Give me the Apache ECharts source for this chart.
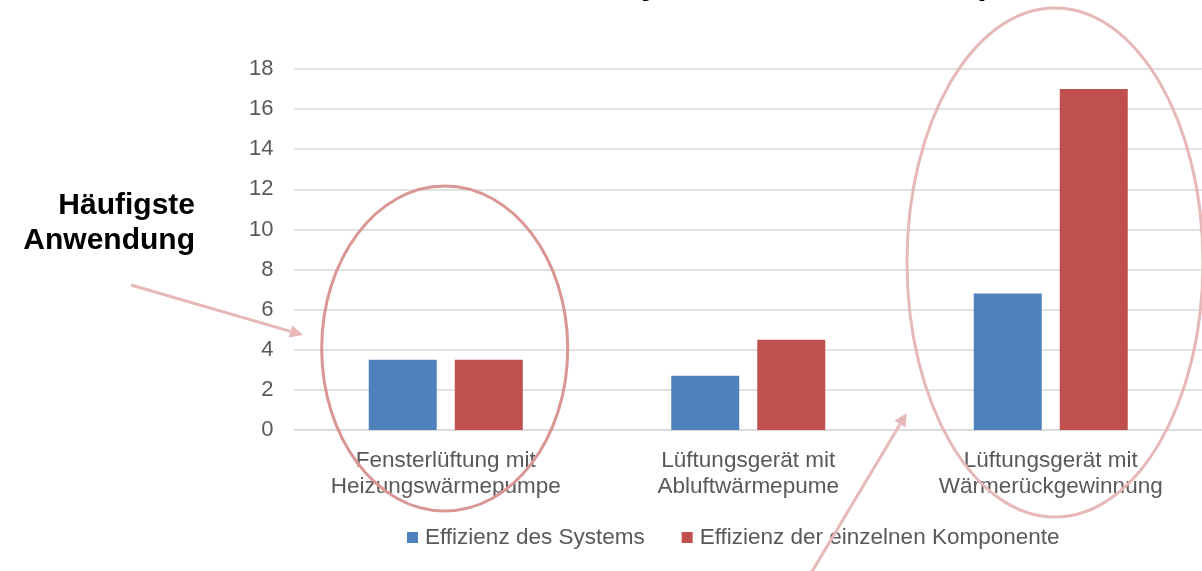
<!DOCTYPE html>
<html>
<head>
<meta charset="utf-8">
<script src="https://cdn.jsdelivr.net/npm/echarts@6/dist/echarts.min.js"></script>
<style>
  html, body { margin: 0; padding: 0; background: #ffffff; }
  #chart { width: 1202px; height: 571px; }
</style>
</head>
<body>
<div id="chart"></div>
<script>
const titleText = 'Effizienz des Systems und der Komponente';
const categories = [
  'Fensterlüftung mit\nHeizungswärmepumpe',
  'Lüftungsgerät mit\nAbluftwärmepume',
  'Lüftungsgerät mit\nWärmerückgewinnung'
];
const seriesNames = ['Effizienz des Systems', 'Effizienz der einzelnen Komponente'];
const systemValues = [3.5, 2.7, 6.8];
const componentValues = [3.5, 4.5, 17];
const yMin = 0, yMax = 18, yInterval = 2;
const annotationText = 'Häufigste\nAnwendung';

const chart = echarts.init(document.getElementById('chart'), null, { renderer: 'canvas' });
const FONT = 'Liberation Sans, Arial, sans-serif';
const PINK = '#e6b9b8';
const PINK_DARK = '#d99694';

function arrowHead(tip, from, len, half) {
  const dx = tip[0] - from[0], dy = tip[1] - from[1];
  const L = Math.sqrt(dx * dx + dy * dy);
  const ux = dx / L, uy = dy / L;
  const bx = tip[0] - ux * len, by = tip[1] - uy * len;
  const px = -uy * half, py = ux * half;
  return { base: [bx, by], pts: [tip, [bx + px, by + py], [bx - px, by - py]] };
}
const a1 = arrowHead([303, 335], [131, 285], 13, 6.5);
const a2 = arrowHead([906.7, 413], [801, 590], 13, 6.5);

chart.setOption({
  animation: false,
  backgroundColor: '#ffffff',
  textStyle: { fontFamily: FONT },
  title: {
    text: titleText,
    left: 403,
    top: -32,
    padding: 0,
    textStyle: { fontFamily: FONT, fontSize: 34, fontWeight: 'bold', color: '#000000' }
  },
  legend: {
    data: seriesNames,
    left: 407,
    top: 526,
    padding: 0,
    itemWidth: 11,
    itemHeight: 11,
    itemGap: 37,
    icon: 'rect',
    textStyle: { fontFamily: FONT, fontSize: 22.5, color: '#595959', padding: [0, 0, 0, 2] }
  },
  grid: { left: 294.5, right: -3, top: 69, bottom: 141, containLabel: false },
  xAxis: {
    type: 'category',
    data: categories,
    axisLine: { show: true, lineStyle: { color: '#d9d9d9', width: 1.5 } },
    axisTick: { show: false },
    axisLabel: {
      interval: 0,
      margin: 18,
      fontFamily: FONT,
      fontSize: 22.5,
      lineHeight: 26,
      color: '#595959',
      align: 'center'
    }
  },
  yAxis: {
    type: 'value',
    min: yMin,
    max: yMax,
    interval: yInterval,
    axisLine: { show: false },
    axisTick: { show: false },
    splitLine: { show: true, lineStyle: { color: '#d9d9d9', width: 1.5 } },
    axisLabel: { margin: 21, fontFamily: FONT, fontSize: 22, color: '#595959' }
  },
  series: [
    {
      name: seriesNames[0],
      type: 'bar',
      data: systemValues,
      barWidth: 68,
      barGap: '26.5%',
      itemStyle: { color: '#4f81bd' }
    },
    {
      name: seriesNames[1],
      type: 'bar',
      data: componentValues,
      barWidth: 68,
      barGap: '26.5%',
      itemStyle: { color: '#c0504d' }
    }
  ],
  graphic: [
    {
      type: 'text',
      x: 195,
      y: 188.5,
      z: 100,
      style: {
        text: annotationText,
        font: 'bold 30px ' + FONT,
        fill: '#000000',
        align: 'right',
        verticalAlign: 'top',
        lineHeight: 35
      }
    },
    {
      type: 'ellipse',
      z: 100,
      shape: { cx: 444.7, cy: 348.5, rx: 123, ry: 162.5 },
      style: { fill: null, stroke: PINK_DARK, lineWidth: 3 }
    },
    {
      type: 'ellipse',
      z: 100,
      shape: { cx: 1055, cy: 262.5, rx: 148, ry: 254.5 },
      style: { fill: null, stroke: PINK, lineWidth: 3 }
    },
    {
      type: 'line',
      z: 100,
      shape: { x1: 131, y1: 285, x2: a1.base[0], y2: a1.base[1] },
      style: { stroke: PINK, lineWidth: 3 }
    },
    {
      type: 'polygon',
      z: 100,
      shape: { points: a1.pts },
      style: { fill: PINK }
    },
    {
      type: 'line',
      z: 100,
      shape: { x1: 801, y1: 590, x2: a2.base[0], y2: a2.base[1] },
      style: { stroke: PINK, lineWidth: 3 }
    },
    {
      type: 'polygon',
      z: 100,
      shape: { points: a2.pts },
      style: { fill: PINK }
    }
  ]
});
</script>
</body>
</html>
